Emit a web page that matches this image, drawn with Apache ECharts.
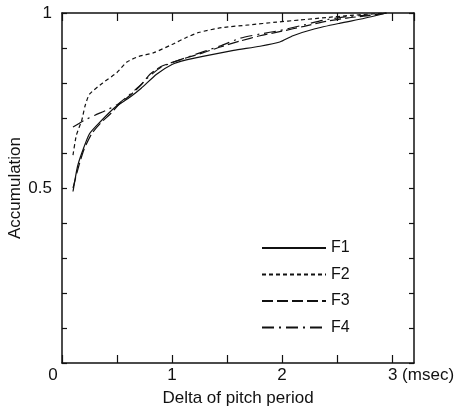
<!DOCTYPE html>
<html>
<head>
<meta charset="utf-8">
<script src="https://cdn.jsdelivr.net/npm/echarts@6/dist/echarts.min.js"></script>
<style>
html,body{margin:0;padding:0;background:#fff;}
#c{width:465px;height:411px;}
</style>
</head>
<body>
<div id="c"></div>
<script>
// Data (x: delta of pitch period in msec, y: accumulation)
var seriesNames = ['F1', 'F2', 'F3', 'F4'];
var f1 = [[0.1,0.49],[0.14,0.56],[0.18,0.60],[0.25,0.655],[0.35,0.69],[0.48,0.73],[0.62,0.76],[0.72,0.785],[0.86,0.825],[1.0,0.853],[1.13,0.866],[1.28,0.876],[1.56,0.893],[1.8,0.905],[1.98,0.917],[2.1,0.935],[2.3,0.955],[2.53,0.971],[2.75,0.985],[2.95,1.0]];
var f2 = [[0.1,0.594],[0.13,0.65],[0.18,0.694],[0.21,0.735],[0.25,0.768],[0.37,0.80],[0.5,0.83],[0.59,0.86],[0.7,0.876],[0.83,0.886],[1.0,0.91],[1.13,0.93],[1.25,0.945],[1.45,0.958],[1.7,0.966],[1.95,0.974],[2.16,0.98],[2.4,0.987],[2.62,0.993],[2.95,1.0]];
var f3 = [[0.1,0.5],[0.15,0.56],[0.2,0.61],[0.27,0.655],[0.35,0.685],[0.45,0.715],[0.52,0.74],[0.62,0.765],[0.72,0.795],[0.8,0.825],[0.9,0.847],[1.07,0.866],[1.28,0.886],[1.44,0.903],[1.62,0.92],[1.8,0.935],[2.0,0.948],[2.2,0.962],[2.4,0.976],[2.6,0.986],[2.8,0.993],[2.95,1.0]];
var f4 = [[0.1,0.674],[0.2,0.693],[0.3,0.708],[0.4,0.722],[0.5,0.738],[0.6,0.763],[0.7,0.79],[0.78,0.815],[0.9,0.845],[1.07,0.866],[1.28,0.889],[1.44,0.906],[1.62,0.928],[1.8,0.94],[1.98,0.95],[2.2,0.966],[2.37,0.979],[2.6,0.99],[2.83,0.995],[2.95,1.0]];
var xTickLabels = ['0', '1', '2', '3 (msec)'];
var yTickLabels = ['0.5', '1'];

var FONT = "'Liberation Sans', Arial, Helvetica, sans-serif";
var INK = '#111';
var chart = echarts.init(document.getElementById('c'), null, {renderer: 'canvas'});

function xLabel(v) {
  var r = Math.round(v * 100) / 100;
  if (r === 0) return '{z|' + xTickLabels[0] + '}';
  if (r === 1) return xTickLabels[1];
  if (r === 2) return xTickLabels[2];
  if (r === 3) return '{m|' + xTickLabels[3] + '}';
  return '';
}
function yLabel(v) {
  var r = Math.round(v * 100) / 100;
  if (r === 0.5) return yTickLabels[0];
  if (r === 1) return yTickLabels[1];
  return '';
}

var axisLineStyle = {color: INK, width: 1.5};
var dashes = {F1: 'solid', F2: [4, 3], F3: [11, 4], F4: [12, 5, 2, 5]};
var dataMap = {F1: f1, F2: f2, F3: f3, F4: f4};

chart.setOption({
  animation: false,
  backgroundColor: '#fff',
  textStyle: {fontFamily: FONT, color: INK},
  grid: {left: 62, right: 51, top: 13, bottom: 48, containLabel: false, outerBoundsMode: 'none'},
  legend: {
    data: seriesNames,
    orient: 'vertical',
    left: 256,
    top: 235,
    itemWidth: 64,
    itemHeight: 14,
    itemGap: 10.5,
    itemStyle: {opacity: 0},
    textStyle: {fontFamily: FONT, fontSize: 16, color: INK}
  },
  xAxis: [{
    type: 'value', min: 0, max: 3.2, interval: 0.5, position: 'bottom',
    name: 'Delta of pitch period', nameLocation: 'middle', nameGap: 27,
    nameTextStyle: {fontFamily: FONT, fontSize: 17, color: INK},
    axisLine: {show: true, onZero: false, lineStyle: axisLineStyle},
    axisTick: {show: true, inside: true, length: 8, lineStyle: {color: INK, width: 1.2}},
    axisLabel: {
      show: true, margin: 4, fontFamily: FONT, fontSize: 17, color: INK,
      formatter: xLabel, showMaxLabel: false,
      rich: {
        z: {fontFamily: FONT, fontSize: 17, color: INK, padding: [0, 18, 6, 0]},
        m: {fontFamily: FONT, fontSize: 17, color: INK, padding: [0, 0, 0, 58]}
      }
    },
    splitLine: {show: false}
  }, {
    type: 'value', min: 0, max: 3.2, interval: 0.5, position: 'top',
    axisLine: {show: true, onZero: false, lineStyle: axisLineStyle},
    axisTick: {show: true, inside: true, length: 8, lineStyle: {color: INK, width: 1.2}},
    axisLabel: {show: false},
    splitLine: {show: false}
  }],
  yAxis: [{
    type: 'value', min: 0, max: 1, interval: 0.1, position: 'left',
    name: 'Accumulation', nameLocation: 'middle', nameGap: 38, nameRotate: 90,
    nameMoveOverlap: false,
    nameTextStyle: {fontFamily: FONT, fontSize: 17, color: INK},
    axisLine: {show: true, onZero: false, lineStyle: axisLineStyle},
    axisTick: {show: true, inside: true, length: 5, lineStyle: {color: INK, width: 1.2}},
    axisLabel: {show: true, margin: 10, fontFamily: FONT, fontSize: 17, color: INK, formatter: yLabel},
    splitLine: {show: false}
  }, {
    type: 'value', min: 0, max: 1, interval: 0.1, position: 'right',
    axisLine: {show: true, onZero: false, lineStyle: axisLineStyle},
    axisTick: {show: true, inside: true, length: 5, lineStyle: {color: INK, width: 1.2}},
    axisLabel: {show: false},
    splitLine: {show: false}
  }],
  series: seriesNames.map(function (n) {
    return {
      name: n, type: 'line', xAxisIndex: 0, yAxisIndex: 0,
      data: dataMap[n], symbol: 'none', smooth: 0.2,
      lineStyle: {color: INK, width: 1.2, type: dashes[n]},
      itemStyle: {color: INK}
    };
  })
});
</script>
</body>
</html>
